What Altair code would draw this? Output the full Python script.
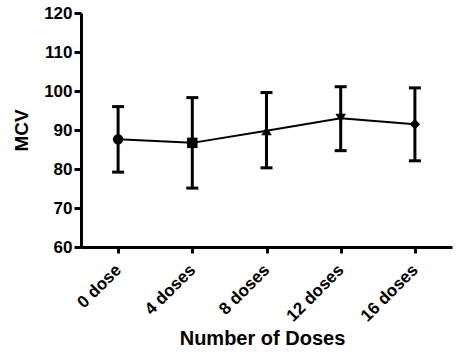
import altair as alt
import pandas as pd

groups = ["0 dose", "4 doses", "8 doses", "12 doses", "16 doses"]
means = [87.6, 86.7, 89.8, 93.0, 91.5]
lower = [79.2, 75.1, 80.3, 84.7, 82.1]
upper = [96.0, 98.3, 99.6, 101.1, 100.8]
shapes = ["circle", "square", "triangle-up", "triangle-down", "diamond"]
yticks = [60, 70, 80, 90, 100, 110, 120]

df = pd.DataFrame({"group": groups, "mean": means, "lo": lower, "hi": upper, "shape": shapes})

FONT = "Liberation Sans"
x = alt.X("group:N", sort=groups, scale=alt.Scale(type="point", padding=0.5),
          axis=alt.Axis(title="Number of Doses", labelAngle=-45, labelFontSize=17,
                        labelFontWeight="bold", labelFont=FONT, labelBaseline="middle",
                        labelAlign="right",
                        titleFont=FONT, titleFontSize=20, titleFontWeight="bold",
                        titlePadding=4, labelPadding=14, tickSize=6, tickWidth=3,
                        titleX=181, titleAlign="center",
                        domainWidth=3, domainColor="black", tickColor="black",
                        labelColor="black", titleColor="black"))
yscale = alt.Scale(domain=[60, 120], nice=False, zero=False)
yaxis = alt.Axis(title="MCV", values=yticks, labelFontSize=17, labelOverlap=False,
                 labelFontWeight="bold", labelFont=FONT,
                 titleFont=FONT, titleFontSize=19, titleFontWeight="bold",
                 titlePadding=12, labelPadding=2, tickSize=7, tickWidth=3,
                 domainWidth=3, domainColor="black", tickColor="black",
                 labelColor="black", titleColor="black", grid=False)

base = alt.Chart(df)

def Y(field):
    return alt.Y(field, scale=yscale, axis=yaxis, title="MCV")

rules = base.mark_rule(color="black", strokeWidth=3).encode(
    x=x, y=Y("lo:Q"), y2="hi:Q")
cap_lo = base.mark_tick(color="black", thickness=3, size=12, opacity=1).encode(x=x, y=Y("lo:Q"))
cap_hi = base.mark_tick(color="black", thickness=3, size=12, opacity=1).encode(x=x, y=Y("hi:Q"))
line = base.mark_line(color="black", strokeWidth=2).encode(x=x, y=Y("mean:Q"))
pts = base.mark_point(filled=True, color="black", size=110, opacity=1).encode(
    x=x, y=Y("mean:Q"),
    shape=alt.Shape("shape:N", scale=None, legend=None))

chart = alt.layer(rules, cap_lo, cap_hi, line, pts).properties(
    width=371, height=234,
    autosize=alt.AutoSizeParams(type="none"),
    padding={"left": 81, "top": 13, "right": 15, "bottom": 107},
    background="white",
).configure_view(stroke=None)

chart.save("out.html", embed_options={"renderer": "svg", "actions": False})
